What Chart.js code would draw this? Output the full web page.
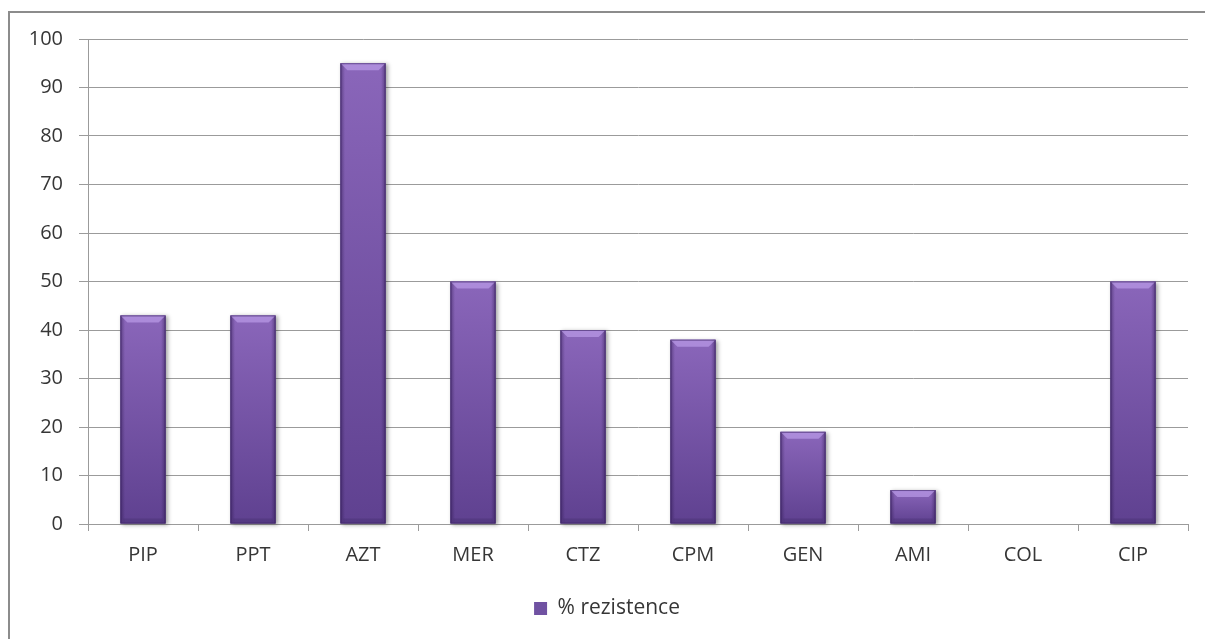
<!DOCTYPE html>
<html>
<head>
<meta charset="utf-8">
<script src="https://cdn.jsdelivr.net/npm/chart.js@4/dist/chart.umd.min.js"></script>
<style>
  html, body { margin: 0; padding: 0; background: #fff; overflow: hidden; }
  #wrap { width: 1205px; height: 639px; position: relative; }
</style>
</head>
<body>
<div id="wrap"><canvas id="c" width="1205" height="639"></canvas></div>
<script>
// Antibiotics tested and the share of resistant isolates (%)
const categories = ['PIP', 'PPT', 'AZT', 'MER', 'CTZ', 'CPM', 'GEN', 'AMI', 'COL', 'CIP'];
const resistance = [43, 43, 95, 50, 40, 38, 19, 7, 0, 50];
const seriesLabel = '% rezistence';
const yTickValues = [0, 10, 20, 30, 40, 50, 60, 70, 80, 90, 100];

const TEXT = '#363636';
const LINE = '#9b9b9b';
const FONT = { family: '"Open Sans", Lato, sans-serif', size: 20 };

// White page with the grey outline of the chart box
const framePlugin = {
  id: 'frame',
  beforeDraw(chart) {
    const ctx = chart.ctx;
    ctx.save();
    ctx.fillStyle = '#ffffff';
    ctx.fillRect(0, 0, chart.width, chart.height);
    ctx.strokeStyle = '#8c8c8c';
    ctx.lineWidth = 2;
    ctx.strokeRect(9, 12, chart.width + 20, chart.height + 20);
    ctx.restore();
  }
};

// Shaded columns: vertical gradient, darker sides, bevelled top, soft shadow
const bevelPlugin = {
  id: 'bevel',
  afterDatasetsDraw(chart) {
    const ctx = chart.ctx;
    chart.getDatasetMeta(0).data.forEach(bar => {
      const { x, y, base, width } = bar.getProps(['x', 'y', 'base', 'width'], true);
      const h = base - y;
      if (h < 1) return;
      const l = x - width / 2, r = x + width / 2;
      ctx.save();
      ctx.shadowColor = 'rgba(0,0,0,0.35)';
      ctx.shadowBlur = 4;
      ctx.shadowOffsetX = 2;
      ctx.shadowOffsetY = 1;
      const g = ctx.createLinearGradient(0, y, 0, base);
      g.addColorStop(0, '#8a66ba');
      g.addColorStop(1, '#5f4190');
      ctx.fillStyle = g;
      ctx.fillRect(l, y, width, h);
      ctx.shadowColor = 'transparent';

      const e = ctx.createLinearGradient(l, 0, r, 0);
      e.addColorStop(0, 'rgba(40,20,70,0.45)');
      e.addColorStop(0.1, 'rgba(40,20,70,0)');
      e.addColorStop(0.9, 'rgba(40,20,70,0)');
      e.addColorStop(1, 'rgba(40,20,70,0.45)');
      ctx.fillStyle = e;
      ctx.fillRect(l, y, width, h);

      const b = Math.min(7, h / 2, width / 2);
      ctx.beginPath();
      ctx.moveTo(l, y); ctx.lineTo(r, y);
      ctx.lineTo(r - b, y + b); ctx.lineTo(l + b, y + b);
      ctx.closePath();
      ctx.fillStyle = 'rgba(195,165,240,0.6)';
      ctx.fill();

      const bb = Math.min(5, h / 3);
      ctx.fillStyle = 'rgba(40,20,70,0.18)';
      ctx.fillRect(l + 3, base - bb, width - 6, bb);

      ctx.strokeStyle = 'rgba(60,35,100,0.6)';
      ctx.lineWidth = 1;
      ctx.strokeRect(l + 0.5, y + 0.5, width - 1, h - 1);
      ctx.restore();
    });
  }
};

new Chart(document.getElementById('c'), {
  type: 'bar',
  data: {
    labels: categories,
    datasets: [{
      label: seriesLabel,
      data: resistance,
      backgroundColor: '#7052a2',
      borderWidth: 0,
      barPercentage: 0.41,
      categoryPercentage: 1
    }]
  },
  plugins: [framePlugin, bevelPlugin],
  options: {
    responsive: false,
    animation: false,
    layout: { padding: { left: 26, top: 39, right: 17, bottom: 10 } },
    plugins: {
      legend: {
        position: 'bottom',
        labels: { font: { family: FONT.family, size: 21 }, color: TEXT, boxWidth: 13, boxHeight: 13, padding: 10 }
      },
      tooltip: { enabled: false }
    },
    scales: {
      x: {
        grid: { offset: true, drawOnChartArea: false, drawTicks: true, tickLength: 7, color: LINE },
        border: { color: LINE },
        ticks: { font: FONT, color: TEXT, padding: 12, maxRotation: 0 },
        afterFit(scale) { scale.height = 64; }
      },
      y: {
        min: 0,
        max: 100,
        afterBuildTicks(scale) { scale.ticks = yTickValues.map(v => ({ value: v })); },
        grid: { color: LINE, tickLength: 9 },
        border: { color: LINE },
        ticks: { font: FONT, color: TEXT, padding: 16 },
        afterFit(scale) { scale.width = 62; }
      }
    }
  }
});
</script>
</body>
</html>
